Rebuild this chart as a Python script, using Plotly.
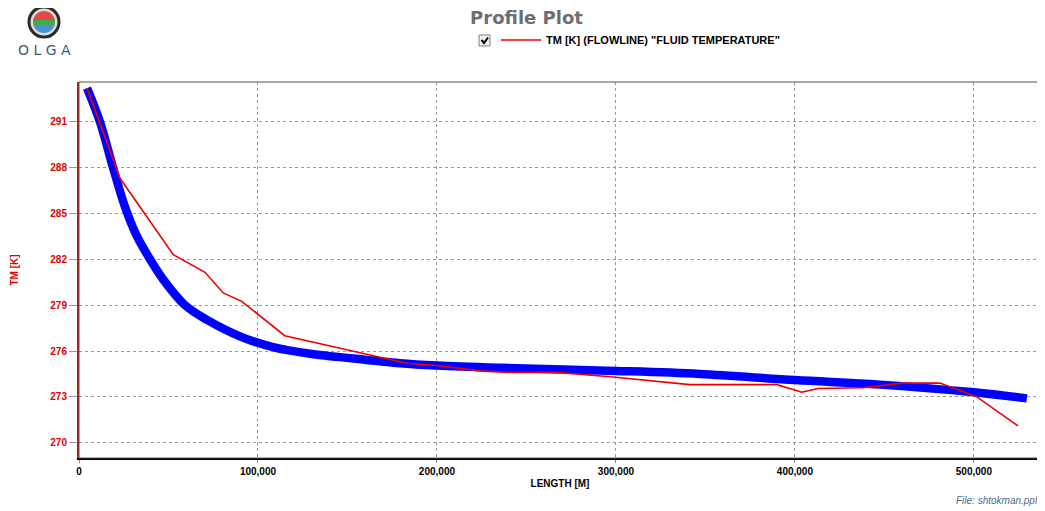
import math
import plotly.graph_objects as go

# Blue curve (smoothed profile)
blue_x = [4500, 11700, 19000, 25500, 32000, 39700, 47100, 59200, 71300, 89900,
          108400, 130000, 145800, 179300, 200000, 235200, 300000, 346900, 400000,
          447500, 500000, 529600]
blue_y = [293.2, 291.0, 288.0, 285.5, 283.6, 282.0, 280.67, 279.0, 278.05, 276.96,
          276.25, 275.8, 275.6, 275.2, 275.05, 274.9, 274.7, 274.5, 274.1,
          273.8, 273.3, 272.9]

# Red line: TM [K] (FLOWLINE) "FLUID TEMPERATURE"
red_x = [4500, 22900, 52700, 70400, 80600, 90900, 115000, 183000, 200000, 224000,
         239000, 267000, 298300, 322900, 341300, 389900, 403900, 412800, 438000,
         460000, 481000, 501700, 524600]
red_y = [293.2, 287.3, 282.3, 281.15, 279.8, 279.25, 277.0, 275.2, 275.05, 274.7,
         274.6, 274.6, 274.3, 274.0, 273.8, 273.8, 273.3, 273.55, 273.6,
         273.9, 273.9, 273.0, 271.1]

y_ticks = [270, 273, 276, 279, 282, 285, 288, 291]
x_ticks = [0, 100000, 200000, 300000, 400000, 500000]

FONT = "Liberation Sans, Arial, sans-serif"
OFF = 8  # page body margin
W, H = 1045 - OFF, 511 - OFF
L, T = 79 - OFF, 82 - OFF
R = W - (1041 - OFF)
B = H - (458 - OFF)
PW, PH = W - L - R, H - T - B


def px(xpage):
    return (xpage - OFF - L) / PW


def py(ypage):
    return (H - B - (ypage - OFF)) / PH


fig = go.Figure()
fig.add_trace(go.Scatter(
    x=blue_x, y=blue_y, mode="lines",
    line=dict(color="#0000ff", width=8.5, shape="spline", smoothing=1.0),
    showlegend=False, hoverinfo="skip"))
fig.add_trace(go.Scatter(
    x=red_x, y=red_y, mode="lines",
    line=dict(color="#ee0000", width=1.6),
    name='TM [K] (FLOWLINE) "FLUID TEMPERATURE"'))

fig.update_layout(
    width=W, height=H, autosize=False,
    margin=dict(l=L, r=R, t=T, b=B, autoexpand=False),
    paper_bgcolor="white", plot_bgcolor="white",
    font=dict(family=FONT, size=10, color="black"),
    title=dict(text="Profile Plot", x=px(560), xanchor="center",
               y=1 - (18 - OFF) / H, yanchor="middle",
               font=dict(family="DejaVu Sans, sans-serif", size=18, color="#6e6e6e", weight="bold")),
    showlegend=True,
    legend=dict(x=px(496), y=py(40), xanchor="left", yanchor="middle",
                bgcolor="rgba(0,0,0,0)", borderwidth=0,
                font=dict(family=FONT, size=11, color="black", weight="bold"),
                itemwidth=40),
    xaxis=dict(range=[0, 537500], tickvals=x_ticks, tickformat=",d", automargin=False,
               showgrid=True, gridcolor="#999999", griddash="3px,3px", gridwidth=1,
               showline=True, linecolor="black", linewidth=2,
               ticks="outside", ticklen=3, tickcolor="#888888",
               tickfont=dict(family=FONT, size=10, color="black", weight="bold"),
               title=dict(text="LENGTH [M]", standoff=4,
                          font=dict(family=FONT, size=10, color="black", weight="bold")),
               zeroline=False),
    yaxis=dict(range=[269.0, 293.6], tickvals=y_ticks, automargin=False,
               showgrid=True, gridcolor="#999999", griddash="3px,3px", gridwidth=1,
               showline=True, linecolor="#ee0000", linewidth=2,
               ticks="outside", ticklen=8, tickcolor="#999999",
               tickfont=dict(family=FONT, size=10, color="#e00000", weight="bold"),
               title=dict(text="TM [K]", standoff=30,
                          font=dict(family=FONT, size=10, color="#e00000", weight="bold")),
               zeroline=False),
)

# frame
fig.add_shape(type="rect", xref="paper", yref="paper", x0=0, y0=0, x1=1, y1=1,
              line=dict(color="#555555", width=1), layer="above")

# checkbox next to the legend
fig.add_shape(type="rect", xref="paper", yref="paper",
              x0=px(479), x1=px(490), y0=py(46), y1=py(35),
              line=dict(color="#808080", width=1), fillcolor="#f0f0f0")
fig.add_shape(type="path", xref="paper", yref="paper",
              path=f"M {px(481.5)},{py(40)} L {px(484)},{py(43)} L {px(488)},{py(37.5)}",
              line=dict(color="black", width=2))

# OLGA logo (approximation)
cx, cy = 44, 22


def band(r, y_top, y_bot):
    n = 24

    def xat(y):
        d = r * r - (y - cy) ** 2
        return math.sqrt(max(d, 0))
    ys = [y_top + (y_bot - y_top) * i / n for i in range(n + 1)]
    pts = [(cx - xat(y), y) for y in ys] + [(cx + xat(y), y) for y in reversed(ys)]
    return "M " + " L ".join(f"{px(a)},{py(b)}" for a, b in pts) + " Z"


fig.add_shape(type="circle", xref="paper", yref="paper",
              x0=px(cx - 15), x1=px(cx + 15), y0=py(cy + 15), y1=py(cy - 15),
              line=dict(color="#2a2a2a", width=3), fillcolor="#dcdcdc")
fig.add_shape(type="path", xref="paper", yref="paper", path=band(11, cy - 11, cy - 2),
              line=dict(width=0), fillcolor="#e04a40")
fig.add_shape(type="path", xref="paper", yref="paper", path=band(11, cy - 2, cy + 3),
              line=dict(width=0), fillcolor="#44a84f")
fig.add_shape(type="path", xref="paper", yref="paper", path=band(11, cy + 3, cy + 11),
              line=dict(width=0), fillcolor="#4694d6")
fig.add_annotation(xref="paper", yref="paper", x=px(44), y=py(50),
                   xanchor="center", yanchor="middle",
                   text="O L G A", showarrow=False,
                   font=dict(family="DejaVu Sans, sans-serif", size=14, color="#3f5c72"))

# file label
fig.add_annotation(xref="paper", yref="paper", x=px(1040), y=py(500),
                   xanchor="right", yanchor="middle", text="<i>File: shtokman.ppl</i>",
                   showarrow=False,
                   font=dict(family=FONT, size=10, color="#4a6a8a"))

fig.write_html("out.html")
